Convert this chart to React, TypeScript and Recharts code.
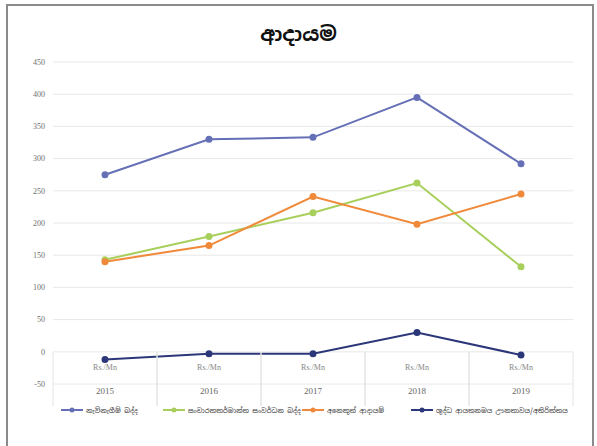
import React from 'react';
import {
  LineChart,
  Line,
  XAxis,
  YAxis,
  CartesianGrid,
  Legend,
} from 'recharts';

const YEARS = ['2015', '2016', '2017', '2018', '2019'];
const UNIT = 'Rs./Mn';

const EMBARKATION_TAX = [275, 330, 333, 395, 292];
const TOURISM_LEVY = [143, 179, 216, 262, 132];
const OTHER_INCOME = [140, 165, 241, 198, 245];
const NET_SURPLUS = [-12, -3, -3, 30, -5];

const Y_TICKS = [-50, 0, 50, 100, 150, 200, 250, 300, 350, 400, 450];

const SERIES = [
  { key: 'embark', name: 'නැව්නැගීම් බද්ද', color: '#6570b6', values: EMBARKATION_TAX },
  { key: 'levy', name: 'සංචාරකකර්මාන්ත සංවර්ධන බද්ද', color: '#a8cf5c', values: TOURISM_LEVY },
  { key: 'other', name: 'අනෙකුත් ආදායම්', color: '#f08a3a', values: OTHER_INCOME },
  { key: 'net', name: 'ශුද්ධ ආයතනමය ඌනතාවය/අතිරික්තය', color: '#2c3779', values: NET_SURPLUS },
];

const data = YEARS.map((year, i) => {
  const row: Record<string, any> = { year };
  SERIES.forEach(s => { row[s.key] = s.values[i]; });
  return row;
});

const SINHALA_FONT = '"Noto Sans Sinhala", "Noto Sans", "DejaVu Sans", sans-serif';
const HALF_BAND = 52;

// Excel-style two level category label: unit row above the year row, boxed by separators
function CategoryTick(props: any) {
  const { x, y, payload } = props;
  return (
    <g>
      <line x1={x - HALF_BAND} y1={y - 40} x2={x - HALF_BAND} y2={y + 14} stroke="#e4e4e4" />
      <line x1={x + HALF_BAND} y1={y - 40} x2={x + HALF_BAND} y2={y + 14} stroke="#e4e4e4" />
      <text x={x} y={y - 22} textAnchor="middle" fontSize={8} fill="#888" fontFamily="'Liberation Serif', serif">
        {UNIT}
      </text>
      <text x={x} y={y + 2} textAnchor="middle" fontSize={9} fill="#666" fontFamily="'Liberation Serif', serif">
        {payload.value}
      </text>
    </g>
  );
}

function LegendContent() {
  const offsets = [0, 102, 241, 350];
  return (
    <div style={{ position: 'relative', height: 12, fontFamily: SINHALA_FONT, fontSize: 6.8, color: '#333' }}>
      {SERIES.map((s, i) => (
        <div
          key={s.key}
          style={{ position: 'absolute', left: offsets[i], top: 0, display: 'flex', alignItems: 'center', whiteSpace: 'nowrap' }}
        >
          <svg width={22} height={10} style={{ marginRight: 3 }}>
            <line x1={0} y1={5} x2={22} y2={5} stroke={s.color} strokeWidth={2} />
            <circle cx={11} cy={5} r={2.5} fill={s.color} />
          </svg>
          <span>{s.name}</span>
        </div>
      ))}
    </div>
  );
}

export default function App() {
  return (
    <div style={{ position: 'absolute', left: 0, top: 0, width: 597, height: 446, background: '#fff' }}>
      <div
        style={{
          position: 'absolute', left: 6, top: 4, width: 584, height: 450,
          borderLeft: '2px solid #8a8a8a', borderTop: '2px solid #8a8a8a', borderRight: '2px solid #8a8a8a',
        }}
      />
      <div
        style={{
          position: 'absolute', left: 0, top: 21, width: 597, textAlign: 'center',
          fontFamily: SINHALA_FONT, fontWeight: 700, fontSize: 20, color: '#111',
        }}
      >
        ආදායම
      </div>
      <LineChart
        width={597}
        height={446}
        data={data}
        margin={{ top: 62, right: 24, left: 23, bottom: 20 }}
      >
        <CartesianGrid vertical={false} stroke="#e8e8e8" />
        <XAxis
          dataKey="year"
          height={30}
          padding={{ left: HALF_BAND, right: HALF_BAND }}
          axisLine={false}
          tickLine={false}
          tick={<CategoryTick />}
          interval={0}
        />
        <YAxis
          width={30}
          domain={[-50, 450]}
          ticks={Y_TICKS}
          axisLine={false}
          tickLine={false}
          tick={{ fontSize: 8, fill: '#6f6f6f', fontFamily: "'Liberation Serif', serif" }}
        />
        {SERIES.map(s => (
          <Line
            key={s.key}
            dataKey={s.key}
            name={s.name}
            stroke={s.color}
            strokeWidth={2}
            dot={{ r: 2.5, fill: s.color, stroke: s.color }}
            isAnimationActive={false}
          />
        ))}
        <Legend
          content={<LegendContent />}
          wrapperStyle={{ position: 'absolute', left: 61, top: 405, width: 530 }}
        />
      </LineChart>
    </div>
  );
}
